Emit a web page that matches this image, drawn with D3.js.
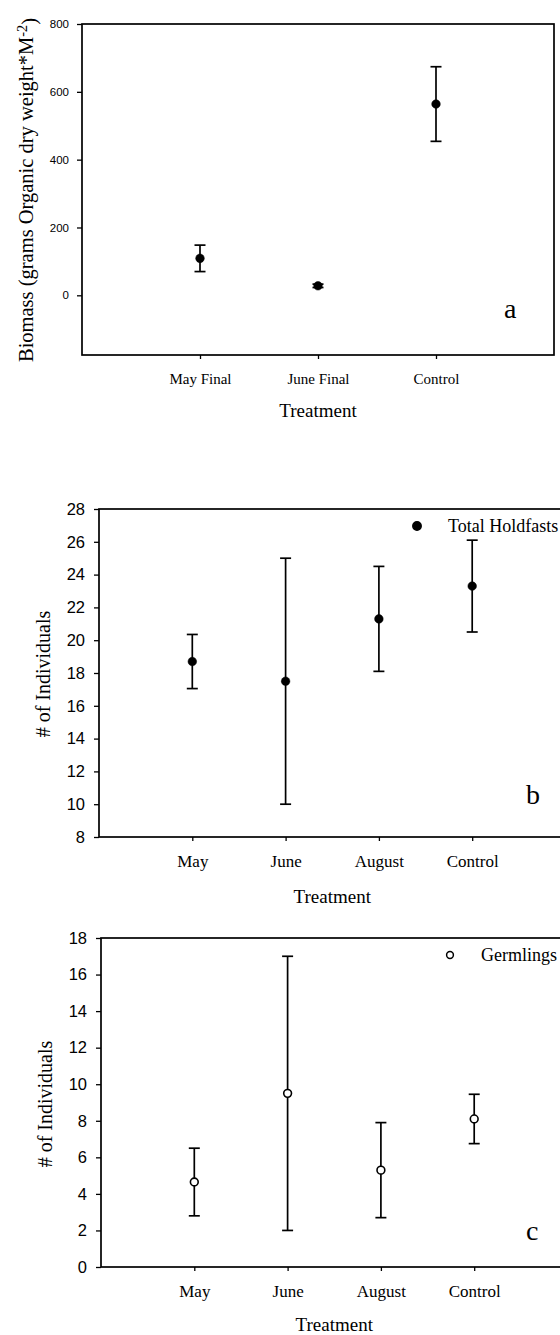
<!DOCTYPE html>
<html>
<head>
<meta charset="utf-8">
<script src="https://cdn.jsdelivr.net/npm/d3@7"></script>
<style>
  html, body { margin: 0; padding: 0; background: #fff; }
  svg { display: block; }
  .serif { font-family: "Liberation Serif", "Times New Roman", serif; fill: #000; }
  .tick text { font-family: "Liberation Sans", Arial, sans-serif; fill: #000; }
</style>
</head>
<body>
<svg id="chart" width="560" height="1335"></svg>
<script>
// Panel a: biomass by treatment
const treatmentsA = ["May Final", "June Final", "Control"];
const biomassMean = [109, 28, 564];
const biomassErr = [39, 5, 110];
const biomassTicks = [0, 200, 400, 600, 800];

// Panels b and c: counts by treatment month
const treatmentsBC = ["May", "June", "August", "Control"];
const holdfastMean = [18.7, 17.5, 21.3, 23.3];
const holdfastErr = [1.65, 7.5, 3.2, 2.8];
const holdfastTicks = [8, 10, 12, 14, 16, 18, 20, 22, 24, 26, 28];

const germlingMean = [4.65, 9.5, 5.3, 8.1];
const germlingErr = [1.85, 7.5, 2.6, 1.35];
const germlingTicks = [0, 2, 4, 6, 8, 10, 12, 14, 16, 18];

const svg = d3.select("#chart");

function drawPanel(p) {
  const g = svg.append("g");
  const x = d3.scaleLinear().domain([0, p.cats.length + 1]).range([p.left, p.right]);
  const y = d3.scaleLinear().domain(p.yDomain).range([p.bottom, p.top]);

  // frame
  g.append("rect")
    .attr("x", x.range()[0]).attr("y", y.range()[1])
    .attr("width", x.range()[1] - x.range()[0])
    .attr("height", y.range()[0] - y.range()[1])
    .attr("fill", "none").attr("stroke", "#000").attr("stroke-width", 1.7);

  // y axis
  const ya = g.append("g").attr("transform", `translate(${p.left},0)`)
    .call(d3.axisLeft(y).tickValues(p.yTicks).tickSize(5).tickPadding(p.yPad).tickFormat(d3.format("d")));
  ya.select(".domain").remove();
  ya.selectAll(".tick line").attr("stroke", "#000").attr("stroke-width", 1.3);
  ya.selectAll(".tick text").style("font-size", p.tickFont + "px");

  // x axis
  const xa = g.append("g").attr("transform", `translate(0,${p.bottom})`)
    .call(d3.axisBottom(x).tickValues(d3.range(1, p.cats.length + 1)).tickSize(4).tickPadding(p.xPad)
      .tickFormat(i => p.cats[i - 1]));
  xa.select(".domain").remove();
  xa.selectAll(".tick line").attr("stroke", "#000").attr("stroke-width", 1.3);
  xa.selectAll(".tick text")
    .attr("class", "serif")
    .style("font-family", "'Liberation Serif', 'Times New Roman', serif")
    .style("font-size", p.catFont + "px");

  // error bars
  const cap = 5.5;
  p.mean.forEach((m, i) => {
    const cx = x(i + 1);
    const lo = y(m - p.err[i]), hi = y(m + p.err[i]);
    g.append("line").attr("x1", cx).attr("x2", cx).attr("y1", lo).attr("y2", hi)
      .attr("stroke", "#000").attr("stroke-width", 1.7);
    [lo, hi].forEach(yy => g.append("line")
      .attr("x1", cx - cap).attr("x2", cx + cap).attr("y1", yy).attr("y2", yy)
      .attr("stroke", "#000").attr("stroke-width", 1.7));
    g.append("circle").attr("cx", cx).attr("cy", y(m)).attr("r", p.open ? 3.9 : 4.3)
      .attr("fill", p.open ? "#fff" : "#000").attr("stroke", "#000").attr("stroke-width", p.open ? 1.6 : 0.5);
  });

  // axis titles
  g.append("text").attr("class", "serif")
    .attr("x", (p.left + p.right) / 2).attr("y", p.bottom + p.xTitleOff)
    .attr("text-anchor", "middle").style("font-size", "19px").text("Treatment");

  const yt = g.append("text").attr("class", "serif")
    .attr("transform", `translate(${p.yTitleX},${p.yTitleY}) rotate(-90)`)
    .attr("text-anchor", "middle").style("font-size", p.yTitleFont + "px");
  yt.append("tspan").text(p.yTitle);
  if (p.yTitleSup) {
    yt.append("tspan").attr("dy", "-0.45em").style("font-size", (p.yTitleFont * 0.7) + "px").text(p.yTitleSup);
    yt.append("tspan").attr("dy", "0.45em").text(")");
  }

  // panel letter
  g.append("text").attr("class", "serif")
    .attr("x", p.letterX).attr("y", p.letterY)
    .style("font-size", "28px").text(p.letter);

  // legend
  if (p.legend) {
    g.append("circle").attr("cx", p.legendX).attr("cy", p.legendY).attr("r", p.open ? 3.4 : 4.2)
      .attr("fill", p.open ? "#fff" : "#000").attr("stroke", "#000").attr("stroke-width", 1.5);
    g.append("text").attr("class", "serif")
      .attr("x", p.legendX + 31).attr("y", p.legendY + 6)
      .style("font-size", "18px").text(p.legend);
  }
}

drawPanel({
  cats: treatmentsA, mean: biomassMean, err: biomassErr,
  yDomain: [-176, 800], yTicks: biomassTicks,
  left: 82, right: 554, top: 24, bottom: 355,
  tickFont: 11.5, yPad: 8, catFont: 15, xPad: 14, xTitleOff: 62,
  yTitle: "Biomass (grams Organic dry weight*M", yTitleSup: "-2",
  yTitleX: 33, yTitleY: 190, yTitleFont: 20.5,
  letter: "a", letterX: 504, letterY: 318, open: false
});

drawPanel({
  cats: treatmentsBC, mean: holdfastMean, err: holdfastErr,
  yDomain: [8, 28], yTicks: holdfastTicks,
  left: 99, right: 565.5, top: 509, bottom: 837,
  tickFont: 16.5, yPad: 9, catFont: 17, xPad: 14, xTitleOff: 66,
  yTitle: "# of Individuals", yTitleX: 50, yTitleY: 674, yTitleFont: 20,
  letter: "b", letterX: 526, letterY: 804, open: false,
  legend: "Total Holdfasts", legendX: 417, legendY: 526
});

drawPanel({
  cats: treatmentsBC, mean: germlingMean, err: germlingErr,
  yDomain: [0, 18], yTicks: germlingTicks,
  left: 101, right: 567.5, top: 938, bottom: 1267,
  tickFont: 16.5, yPad: 9, catFont: 17, xPad: 14, xTitleOff: 64,
  yTitle: "# of Individuals", yTitleX: 52, yTitleY: 1104, yTitleFont: 20,
  letter: "c", letterX: 526, letterY: 1240, open: true,
  legend: "Germlings", legendX: 450, legendY: 955
});
</script>
</body>
</html>
